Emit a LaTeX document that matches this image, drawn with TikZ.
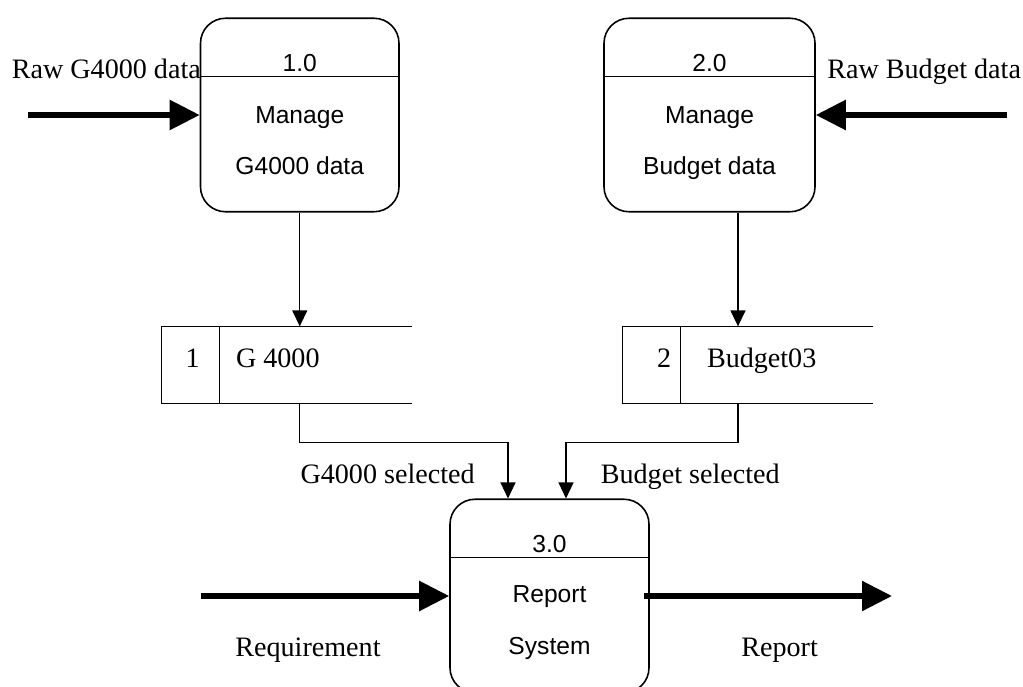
\documentclass[tikz,border=0pt]{standalone}
\usepackage{fontspec}
\setmainfont{Liberation Serif}
\newfontfamily\procfont{Liberation Sans}
\usetikzlibrary{calc,arrows.meta}

\begin{document}
\begin{tikzpicture}[
    proc/.style={draw=black, line width=0.9pt, rounded corners=0.5cm, minimum height=3.87cm, inner sep=0pt},
    store/.style={minimum height=1.532cm, inner sep=0pt},
    storeline/.style={draw=black, line width=0.8pt},
    split/.style={draw=black, line width=0.6pt},
    ptxt/.style={font=\procfont\fontsize{14}{17}\selectfont, inner sep=0pt, anchor=base},
    lbl/.style={font=\fontsize{16}{19}\selectfont, inner sep=0pt},
    flow/.style={draw=black, line width=0.75pt, -{Triangle[length=0.32cm,width=0.3cm]}},
    bigflow/.style={draw=black, line width=0.11cm, -{Triangle[length=0.6cm,width=0.58cm]}}
    ]
    \useasboundingbox (0,0) rectangle (20.46,-13.74);

    % processes
    \node[proc, minimum width=3.97cm] (p1) at (5.995,-2.30) {};
    \node[proc, minimum width=4.22cm] (p2) at (14.19,-2.30) {};
    \node[proc, minimum width=3.98cm] (p3) at (10.99,-11.92) {};

    \draw[split] ($(p1.north west)+(0,-1.18)$) -- ($(p1.north east)+(0,-1.18)$);
    \draw[split] ($(p2.north west)+(0,-1.18)$) -- ($(p2.north east)+(0,-1.18)$);
    \draw[split] ($(p3.north west)+(0,-1.18)$) -- ($(p3.north east)+(0,-1.18)$);

    \node[ptxt] (p1id) at ($(p1.north)+(0,-1.08)$) {1.0};
    \node[ptxt] (p1a) at ($(p1.north)+(0,-2.12)$) {Manage};
    \node[ptxt] (p1b) at ($(p1.north)+(0,-3.14)$) {G4000 data};

    \node[ptxt] (p2id) at ($(p2.north)+(0,-1.08)$) {2.0};
    \node[ptxt] (p2a) at ($(p2.north)+(0,-2.12)$) {Manage};
    \node[ptxt] (p2b) at ($(p2.north)+(0,-3.14)$) {Budget data};

    \node[ptxt] (p3id) at ($(p3.north)+(0,-1.08)$) {3.0};
    \node[ptxt] (p3a) at ($(p3.north)+(0,-2.08)$) {Report};
    \node[ptxt] (p3b) at ($(p3.north)+(0,-3.12)$) {System};

    % data stores
    \node[store, minimum width=5.006cm] (s1) at (5.737,-7.30) {};
    \node[store, minimum width=5.006cm] (s2) at (14.957,-7.30) {};

    \draw[storeline] (s1.north east) -- (s1.north west) -- (s1.south west) -- (s1.south east);
    \draw[storeline] ($(s1.north west)+(1.166,0)$) -- ($(s1.south west)+(1.166,0)$);
    \draw[storeline] (s2.north east) -- (s2.north west) -- (s2.south west) -- (s2.south east);
    \draw[storeline] ($(s2.north west)+(1.16,0)$) -- ($(s2.south west)+(1.16,0)$);

    \node[lbl, anchor=base] (s1no) at ($(s1.west)+(0.626,-0.04)$) {1};
    \node[lbl, anchor=base west] (s1name) at ($(s1.west)+(1.486,-0.04)$) {G 4000};
    \node[lbl, anchor=base] (s2no) at ($(s2.west)+(0.836,-0.04)$) {2};
    \node[lbl, anchor=base west] (s2name) at ($(s2.west)+(1.686,-0.04)$) {Budget03};

    % flows
    \coordinate (g4in) at (0.56,-2.30);
    \coordinate (bdin) at (20.14,-2.30);
    \coordinate (reqin) at (4.01,-11.92);
    \coordinate (repout) at (17.84,-11.92);
    \coordinate (p2out) at ($(p2.south)+(0.57,0)$);

    \draw[bigflow] (g4in) -- (p1.west);
    \draw[bigflow] (bdin) -- (p2.east);
    \draw[bigflow] (reqin) -- (p3.west);
    \draw[bigflow] ($(p3.east)+(-0.12,0)$) -- (repout);

    \draw[flow] (p1.south) -- (p1.south |- s1.north);
    \draw[flow] (p2out) -- (p2out |- s2.north);
    \draw[flow] (p1.south |- s1.south) -- ++(0,-0.776) -| ($(p3.north)+(-0.83,0)$);
    \draw[flow] (p2out |- s2.south) -- ++(0,-0.776) -| ($(p3.north)+(0.33,0)$);

    % labels
    \node[lbl, anchor=base west] (rawg) at (0.23,-1.56) {Raw G4000 data};
    \node[lbl, anchor=base west] (rawb) at (16.54,-1.56) {Raw Budget data};
    \node[lbl, anchor=base east] (gsel) at (9.5,-9.66) {G4000 selected};
    \node[lbl, anchor=base east] (bsel) at (15.6,-9.66) {Budget selected};
    \node[lbl, anchor=base west] (req) at (4.7,-13.12) {Requirement};
    \node[lbl, anchor=base west] (rep) at (14.82,-13.12) {Report};
\end{tikzpicture}
\end{document}
